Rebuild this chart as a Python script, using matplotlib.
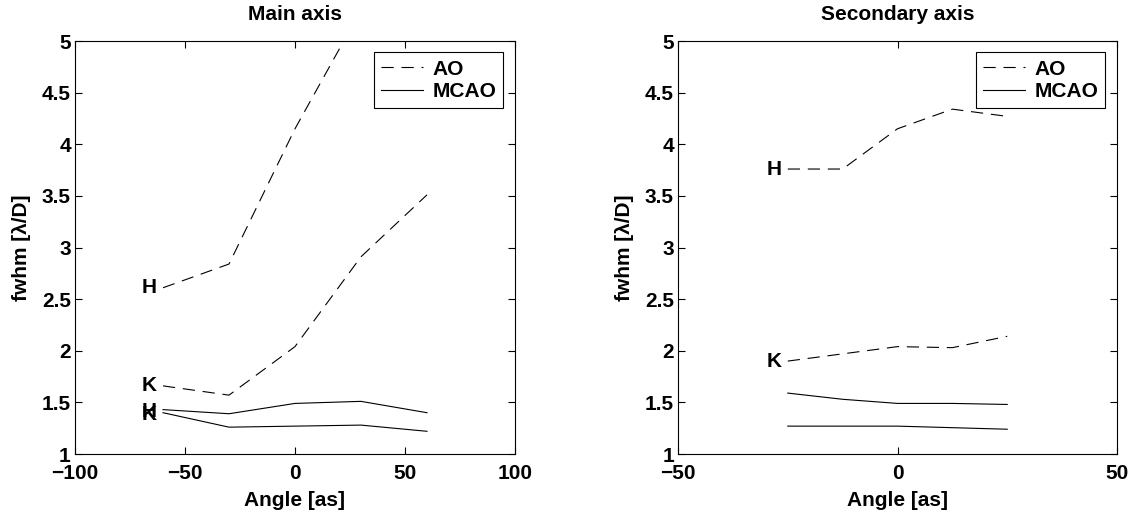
import matplotlib
matplotlib.use("Agg")
import matplotlib.pyplot as plt

plt.rcParams["font.family"] = ["Liberation Sans", "DejaVu Sans"]
plt.rcParams["font.weight"] = "bold"
plt.rcParams["font.size"] = 15

# main axis data
main_angle = [-60, -30, 0, 30, 60]
main_ao_h = [2.61, 2.84, 4.15, 5.3, 5.8]
main_ao_k = [1.66, 1.57, 2.04, 2.91, 3.51]
main_mcao_h = [1.43, 1.39, 1.49, 1.51, 1.40]
main_mcao_k = [1.40, 1.26, 1.27, 1.28, 1.22]

# secondary axis data
sec_angle = [-25, -12.5, 0, 12.5, 25]
sec_ao_h = [3.76, 3.76, 4.15, 4.34, 4.27]
sec_ao_k = [1.90, 1.97, 2.04, 2.03, 2.14]
sec_mcao_h = [1.59, 1.53, 1.49, 1.49, 1.48]
sec_mcao_k = [1.27, 1.27, 1.27, 1.255, 1.24]

y_ticks = [1, 1.5, 2, 2.5, 3, 3.5, 4, 4.5, 5]
y_labels = ["1", "1.5", "2", "2.5", "3", "3.5", "4", "4.5", "5"]

dash = (0, (11, 7))


def panel(ax, x, ao_h, ao_k, mc_h, mc_k, xlim, xticks, title, lab_dx):
    ax.plot(x, ao_h, color="black", lw=0.8, linestyle=dash, label="AO")
    ax.plot(x, mc_h, color="black", lw=0.8, label="MCAO")
    ax.plot(x, ao_k, color="black", lw=0.8, linestyle=dash)
    ax.plot(x, mc_k, color="black", lw=0.8)
    ax.text(x[0] - lab_dx, ao_h[0], "H", ha="right", va="center", fontweight="bold")
    ax.text(x[0] - lab_dx, ao_k[0], "K", ha="right", va="center", fontweight="bold")
    ax.set_xlim(*xlim)
    ax.set_ylim(1, 5)
    ax.set_xticks(xticks)
    ax.set_xticklabels([str(t).replace("-", "\u2212") for t in xticks])
    ax.set_yticks(y_ticks)
    ax.set_yticklabels(y_labels)
    ax.tick_params(direction="in", top=True, right=True, length=5, width=0.8)
    ax.tick_params(axis="x", pad=7)
    ax.tick_params(axis="y", pad=3)
    for s in ax.spines.values():
        s.set_linewidth(0.8)
    ax.set_title(title, fontweight="bold", fontsize=15, pad=15)
    ax.set_xlabel("Angle [as]", fontweight="bold", labelpad=6)
    ax.set_ylabel("fwhm [\u03bb/D]", fontweight="bold", labelpad=8)
    leg = ax.legend(loc="upper right", fancybox=False, framealpha=1,
                    edgecolor="black", borderaxespad=0.55, handlelength=2.0,
                    borderpad=0.35, labelspacing=0.15, handletextpad=0.45)
    leg.get_frame().set_linewidth(0.8)


fig = plt.figure(figsize=(11.35, 5.27), dpi=100)
ax1 = fig.add_axes([0.0661, 0.1385, 0.3876, 0.7837])
ax2 = fig.add_axes([0.5974, 0.1385, 0.3867, 0.7837])

panel(ax1, main_angle, main_ao_h, main_ao_k, main_mcao_h, main_mcao_k,
      (-100, 100), [-100, -50, 0, 50, 100], "Main axis", 3)
panel(ax2, sec_angle, sec_ao_h, sec_ao_k, sec_mcao_h, sec_mcao_k,
      (-50, 50), [-50, 0, 50], "Secondary axis", 1.5)

# the "H" of the MCAO curves on the main axis sits on top of "K"
ax1.text(main_angle[0] - 3, main_mcao_h[0] - 0.02, "H", ha="right", va="center", fontweight="bold")
ax1.text(main_angle[0] - 3, main_mcao_k[0] - 0.02, "K", ha="right", va="center", fontweight="bold")

fig.savefig("out.png", dpi=100)
